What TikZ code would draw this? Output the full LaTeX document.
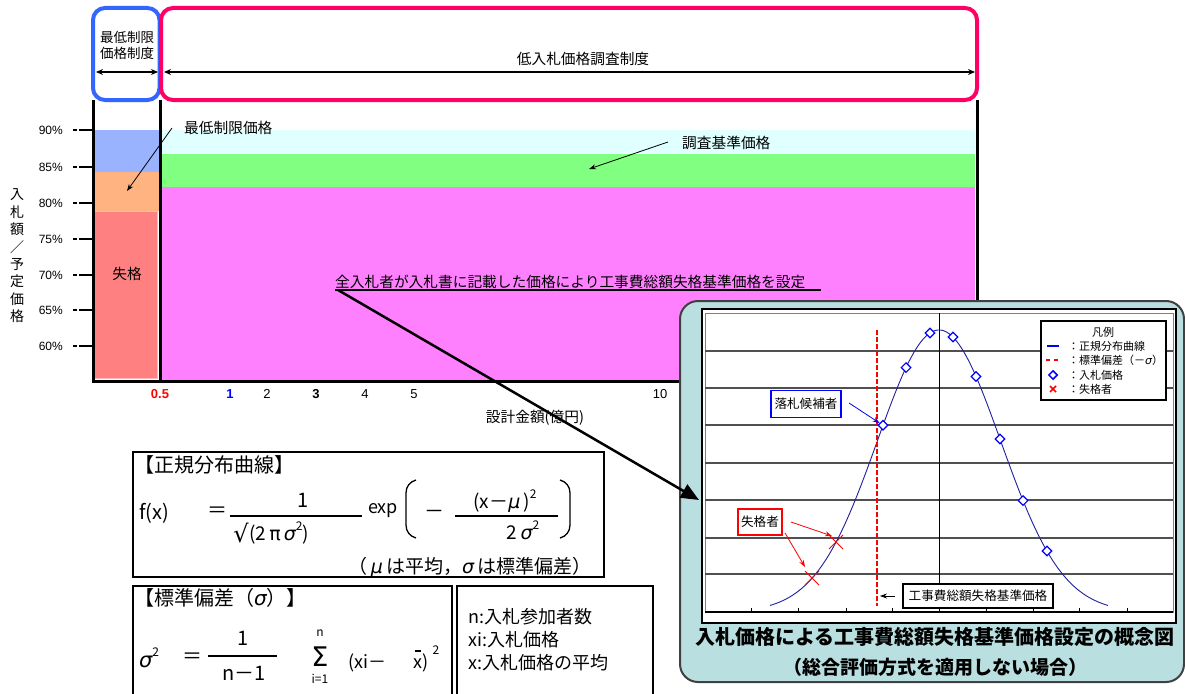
\documentclass[tikz,border=0pt]{standalone}
\usepackage{fontspec}
\setmainfont{Noto Sans CJK JP}
\newfontfamily\lat{Liberation Sans}
\newfontfamily\grk{DejaVu Sans}
\usetikzlibrary{arrows.meta,shapes.geometric}
\newcommand\fsz[1]{\fontsize{#1}{#1}\selectfont}
\newcommand\Gsig{{\grk\itshape σ}}
\newcommand\Gmu{{\grk\itshape μ}}
\newcommand\Gpi{{\grk π}}
\newcommand\sqr[1]{\raisebox{0.55em}{\fsz{12}#1}}
\definecolor{bluebox}{RGB}{51,102,255}
\definecolor{pinkbox}{RGB}{255,0,102}
\definecolor{cblue}{RGB}{153,179,255}
\definecolor{corange}{RGB}{255,179,128}
\definecolor{cred}{RGB}{255,128,128}
\definecolor{ccyan}{RGB}{224,255,255}
\definecolor{cgreen}{RGB}{128,255,128}
\definecolor{cmag}{RGB}{255,128,255}
\definecolor{insetbg}{RGB}{185,223,225}
\definecolor{curveblue}{RGB}{32,32,160}
\definecolor{gridgray}{RGB}{80,80,80}
\tikzset{
  every node/.style={inner sep=0pt},
  body/.style={font=\fsz{14.7}},
  chartline/.style={line width=3pt},
  sysbox/.style={line width=4pt, rounded corners=12pt},
  dblarrow/.style={{Stealth[length=7pt,width=6pt]}-{Stealth[length=7pt,width=6pt]}, line width=1.3pt},
  thinarrow/.style={-{Stealth[length=7pt,width=5pt]}, line width=0.8pt},
  tickmark/.style={line width=2pt, dash pattern=on 4pt off 2pt on 14pt off 0pt},
  gridline/.style={gridgray, line width=1.1pt},
  bid/.style={diamond, draw=blue, fill=white, line width=1.2pt, minimum width=10pt, minimum height=10pt},
  lbox/.style={draw, fill=white, line width=1.2pt, font=\fsz{12.6}},
  frm/.style={font=\fsz{20}},
  fbar/.style={line width=1.3pt},
}
\begin{document}
\begin{tikzpicture}[x=1pt,y=-1pt]
\useasboundingbox (0,0) rectangle (1185,693);
\fill[white] (0,0) rectangle (1185,693);

% ---------- chart fills
\fill[cblue] (94,130) rectangle (159,172);
\fill[corange] (94,172) rectangle (159,211);
\filldraw[fill=cred, draw=cred!55!white, line width=0.8pt] (94.5,211) rectangle (157.5,378);
\fill[ccyan] (162,130) rectangle (975,153);
\fill[cgreen] (162,154) rectangle (975,187);
\fill[cmag] (162,187) rectangle (975,380);

% ---------- chart frame
\draw[chartline] (93,100) -- (93,381) -- (700,381);
\draw[chartline] (160,100) -- (160,381);
\draw[chartline] (977,100) -- (977,320);

% ---------- system boxes
\draw[sysbox, draw=bluebox] (93,8) rectangle (159.5,100);
\draw[sysbox, draw=pinkbox] (161,8) rectangle (977,100);
\node[body, font=\fontsize{13.5}{16}\selectfont, align=center] (sys1) at (127,45.5) {最低制限\\価格制度};
\node[body] (sys2) at (583,59) {低入札価格調査制度};
\coordinate (a1l) at (96,72);
\coordinate (a1r) at (158,72);
\coordinate (a2l) at (164,72);
\coordinate (a2r) at (975,72);
\draw[dblarrow] (a1l) -- (a1r);
\draw[dblarrow] (a2l) -- (a2r);

% ---------- y axis
\foreach \p/\y in {90/130,85/167,80/203,75/239,70/275,65/310,60/346} {
  \node[anchor=east, font=\lat\fsz{12}] (yl\p) at (63,\y) {\p\%};
  \draw[tickmark] (73,\y) -- (92,\y);
}
\node[align=center, font=\fontsize{14}{17.4}\selectfont] (ytitle) at (17,256) {入\\札\\額\\／\\予\\定\\価\\格};

% ---------- x axis
\node[font=\lat\bfseries\fsz{13}, text=red] (x05) at (160,394) {0.5};
\node[font=\lat\bfseries\fsz{13}, text=blue] (x1) at (230,394) {1};
\node[font=\lat\fsz{13}] (x2) at (267,394) {2};
\node[font=\lat\bfseries\fsz{13}] (x3) at (316,394) {3};
\node[font=\lat\fsz{13}] (x4) at (365,394) {4};
\node[font=\lat\fsz{13}] (x5) at (414,394) {5};
\node[font=\lat\fsz{13}] (x10) at (660,394) {10};
\node[body] (xtitle) at (535,418) {設計金額(億円)};

% ---------- annotations in chart
\node[body] (fail) at (127,274) {失格};
\node[body, anchor=west] (minlbl) at (184,128) {最低制限価格};
\coordinate (minS) at (172,128);
\coordinate (minE) at (127,191);
\draw[thinarrow] (minS) -- (minE);
\node[body, anchor=west] (invlbl) at (682,143) {調査基準価格};
\coordinate (invS) at (668,142);
\coordinate (invE) at (589,169);
\draw[thinarrow] (invS) -- (invE);
\node[body, anchor=west] (allbid) at (335,282) {全入札者が入札書に記載した価格により工事費総額失格基準価格を設定};
\coordinate (ulS) at (335,289.5);
\coordinate (ulE) at (821,289.5);
\draw[line width=2pt] (ulS) -- (ulE);

% ---------- formula box 1
\draw[line width=1.2pt] (133,452) rectangle (604,577);
\node[frm, anchor=west] (ndt) at (134,465) {【正規分布曲線】};
\node[frm] (fx) at (154,513) {f(x)};
\node[frm] (eq1) at (217,512) {＝};
\node[frm] (one1) at (303,500) {1};
\draw[fbar] (230,516) -- (362,516);
\node[font=\grk\fsz{24}] (rad) at (241,533) {√};
\node[font=\fsz{19}, anchor=west] (den1) at (249,533) {(2\,\Gpi\,\Gsig\sqr{2})};
\node[font=\fsz{18}] (expf) at (383,511) {exp};
\draw[fbar] (416,480) to[out=195,in=90] (406,493) -- (406,525) to[out=-90,in=165] (416,538);
\node[frm] (mn) at (434,514) {－};
\node[font=\fsz{19}] (num2) at (505,501) {(x－\Gmu\,)\sqr{2}};
\draw[fbar] (455,516) -- (558,516);
\node[font=\fsz{19}] (den2) at (523,530) {2\,\Gsig\sqr{2}};
\draw[fbar] (560,480) to[out=-15,in=90] (570,493) -- (570,525) to[out=-90,in=15] (560,538);
\node[font=\fsz{19}] (fn) at (470,567) {（\,\Gmu\,は平均，\Gsig\,は標準偏差）};

% ---------- formula box 2
\draw[line width=1.2pt] (133,586) rectangle (452,700);
\node[frm, anchor=west] (sdt) at (134,598) {【標準偏差（\Gsig）】};
\node[font=\fsz{21}] (sig2) at (149,658) {\Gsig\sqr{2}};
\node[frm] (eq2) at (192,658) {＝};
\node[frm] (one2) at (243,638) {1};
\draw[fbar] (208,656) -- (277,656);
\node[frm] (nm1) at (244,673) {n－1};
\node[font=\fsz{27}] (sum) at (320,657) {\grk Σ};
\node[font=\fsz{12}] (sumtop) at (320,633) {n};
\node[font=\fsz{12}] (sumbot) at (320,679) {i=1};
\node[font=\fsz{18}, anchor=west] (xi) at (348,663) {(xi－};
\node[font=\fsz{18}, anchor=west] (xb) at (413,663) {x)};
\node[font=\fsz{12}] (sq3) at (436,650) {2};
\draw[line width=1.1pt] (414.5,651) -- (421,651);

% ---------- formula box 3
\draw[line width=1.2pt] (457,586) rectangle (653,700);
\node[font=\fsz{18}, anchor=west] (d1) at (468,617) {n:入札参加者数};
\node[font=\fsz{18}, anchor=west] (d2) at (468,640) {xi:入札価格};
\node[font=\fsz{18}, anchor=west] (d3) at (468,663) {x:入札価格の平均};

% ---------- inset
\draw[fill=insetbg, draw=black!75, line width=2pt, rounded corners=18pt] (680,301) rectangle (1184,682);
\filldraw[fill=white, draw=black, line width=1.2pt] (702,309) rectangle (1176,623);
\draw[gray, line width=1pt] (705,313) rectangle (1173,612);
\foreach \y in {351,388,425,463,500,538,574} \draw[gridline] (705,\y) -- (1173,\y);
\draw[black, line width=1.3pt] (705,612) -- (1173,612);
\foreach \x in {751,798,846,892,986,1033,1079,1127} \draw[black, line width=0.8pt] (\x,612) -- (\x,608);
\draw[black, line width=1pt] (939,313) -- (939,612);
\draw[curveblue, line width=0.9pt, domain=770:1108, samples=120, smooth] plot (\x, {612-282*exp(-((\x-939)/100)^2/0.76)});
\draw[red, line width=1.3pt, dash pattern=on 5pt off 2pt] (877,330) -- (877,606);
\foreach \x/\y [count=\i] in {930/333,953/337,906/367.6,976/376.5,883/425.3,1000/439,1023/500.6,1047/551}
  \node[bid] (b\i) at (\x,\y) {};
\foreach \x/\y [count=\i] in {836/542,812/578} {
  \coordinate (f\i) at (\x,\y);
  \draw[red, line width=0.8pt] ([shift={(-7,-7)}]f\i) -- ([shift={(7,7)}]f\i);
  \draw[red, line width=0.8pt] ([shift={(-7,7)}]f\i) -- ([shift={(7,-7)}]f\i);
}

% legend
\filldraw[fill=white, draw=black, line width=1.2pt] (1041,321) rectangle (1166,400);
\node[font=\fsz{11}] (legt) at (1103,332) {凡例};
\draw[blue, line width=1.6pt] (1047,346) -- (1059,346);
\node[font=\fsz{11}, anchor=west] (lg1) at (1068,346) {：正規分布曲線};
\draw[red, line width=1.6pt, dash pattern=on 4pt off 4pt] (1046,360) -- (1060,360);
\node[font=\fsz{11}, anchor=west] (lg2) at (1068,360) {：標準偏差（－\Gsig）};
\node[bid, minimum width=9pt, minimum height=9pt, line width=1.5pt] (lgd) at (1053,375) {};
\node[font=\fsz{11}, anchor=west] (lg3) at (1068,375) {：入札価格};
\coordinate (lgx) at (1053,389);
\draw[red, line width=1.6pt] ([shift={(-3,-3)}]lgx) -- ([shift={(3,3)}]lgx);
\draw[red, line width=1.6pt] ([shift={(-3,3)}]lgx) -- ([shift={(3,-3)}]lgx);
\node[font=\fsz{11}, anchor=west] (lg4) at (1068,389) {：失格者};

% labels in inset
\node[lbox, draw=blue, minimum width=70pt, minimum height=27pt] (cand) at (806,404) {落札候補者};
\coordinate (candS) at (849,403);
\draw[thinarrow, blue] (candS) -- (b5);
\node[lbox, draw=red, minimum width=44pt, minimum height=26pt] (failer) at (760,522) {失格者};
\coordinate (fS1) at (791,522);
\coordinate (fS2) at (785,533);
\coordinate (fE1) at (832,536);
\coordinate (fE2) at (805,567);
\draw[thinarrow, red] (fS1) -- (fE1);
\draw[thinarrow, red] (fS2) -- (fE2);
\node[lbox, minimum width=150pt, minimum height=24pt] (stdlbl) at (978,596) {工事費総額失格基準価格};
\coordinate (sS) at (895,596);
\coordinate (sE) at (880,596);
\draw[thinarrow] (sS) -- (sE);

\node[font=\bfseries\fsz{20}] (ttl1) at (935,637) {入札価格による工事費総額失格基準価格設定の概念図};
\node[font=\bfseries\fsz{19}] (ttl2) at (935,667) {（総合評価方式を適用しない場合）};

% big arrow
\coordinate (bigS) at (338,290);
\coordinate (bigE) at (699,500);
\draw[line width=2.5pt, -{Triangle[length=18pt,width=15pt]}] (bigS) -- (bigE);
\end{tikzpicture}
\end{document}
